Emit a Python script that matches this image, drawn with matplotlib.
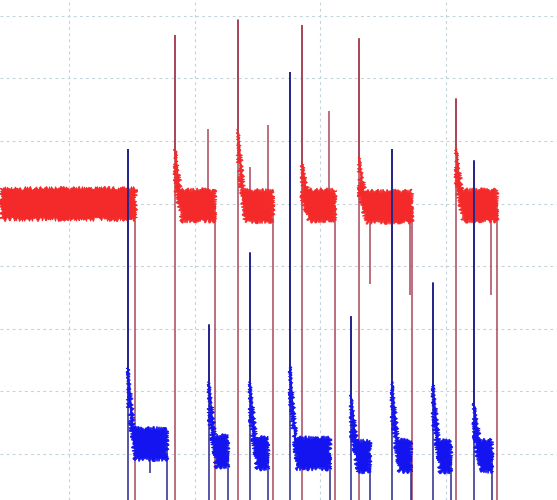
import numpy as np
import matplotlib
matplotlib.use("Agg")
import matplotlib.pyplot as plt

# time in samples, amplitude in divisions
red_on = [0, 175, 238, 302, 359, 456]
red_off = [135, 215, 273, 335, 412, 497]
red_spike = [4.0, 6.68, 6.93, 6.84, 6.63, 5.67]
red_head = [4.0, 4.86, 5.18, 4.66, 4.74, 4.89]
red_level = [4.0, 3.97, 3.96, 3.97, 3.95, 3.97]
red_glitch_x = [208, 250, 268, 329, 370, 410, 491]
red_glitch_y = [5.19, 4.58, 5.26, 5.48, 2.72, 2.54, 2.54]

blue_on = [128, 209, 250, 290, 351, 392, 433, 474]
blue_off = [167, 228, 268, 330, 370, 411, 451, 492]
blue_spike = [4.86, 2.06, 3.21, 6.09, 2.19, 4.86, 2.73, 4.68]
blue_head = [1.37, 1.15, 1.15, 1.39, 0.94, 1.15, 1.13, 0.81]
blue_level = [0.16, 0.04, 0.01, 0.01, -0.04, -0.03, -0.04, -0.03]
blue_glitch_x = [150]
blue_glitch_y = [-0.30]

low = -3.0
half_width = 0.25
head_len = 6


def draw_trace(ax, on, off, spike, head, level, gx, gy, band_col, line_col, z):
    xs, ys = [], []
    for i in range(len(on)):
        x0, x1 = on[i], off[i]
        L = head_len if head[i] > level[i] else 0
        if x0 > 0:
            xs += [x0, x0, x0]
            ys += [low, spike[i], head[i]]
        xs += [x0 + L, x1, x1]
        ys += [level[i], level[i], low]
        # noisy band drawn as a jagged polygon
        top = level[i] + half_width
        bot = level[i] - half_width
        px = [x0, x0 + L, x1, x1, x0 + L + 1, x0]
        py = [max(head[i], top), top, top, bot, bot, max(head[i] - 0.6, bot)]
        poly = ax.fill(px, py, color=band_col, lw=0.6, zorder=z + 1)[0]
        poly.set_sketch_params(scale=2.0, length=0.6, randomness=4)
    ax.plot(xs, ys, color=line_col, lw=1.1, zorder=z)
    ax.vlines(gx, level[0], gy, color=line_col, lw=1.1, zorder=z)


fig = plt.figure(figsize=(5.57, 5.0), dpi=100)
ax = fig.add_axes([0, 0, 1, 1])
ax.set_xlim(0, 557)
ax.set_ylim(-0.735, 7.252)
ax.set_xticks([69, 194.6, 320.2, 445.8])
ax.set_yticks(range(8))
ax.grid(True, color="#c2d3db", lw=0.8, ls=(0, (2.5, 3)))
ax.tick_params(length=0, labelbottom=False, labelleft=False)
for s in ax.spines.values():
    s.set_visible(False)
ax.set_axisbelow(True)

draw_trace(ax, red_on, red_off, red_spike, red_head, red_level,
           red_glitch_x, red_glitch_y, "#f42a2a", "#a8485a", 2)
draw_trace(ax, blue_on, blue_off, blue_spike, blue_head, blue_level,
           blue_glitch_x, blue_glitch_y, "#1414f0", "#28288c", 4)

fig.savefig("out.png", dpi=100)
